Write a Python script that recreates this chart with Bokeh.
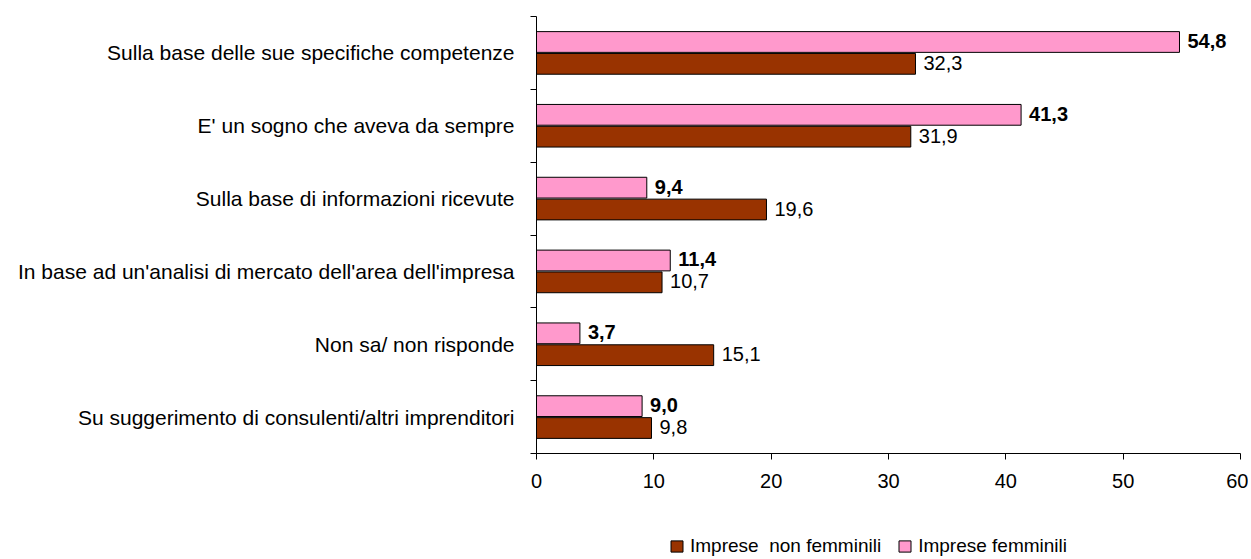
from bokeh.plotting import figure
from bokeh.layouts import column
from bokeh.models import Range1d, FixedTicker, Legend, LegendItem, ColumnDataSource
from bokeh.core.properties import value
from bokeh.embed import file_html
from bokeh.resources import INLINE

categories = [
    "Sulla base delle sue specifiche competenze",
    "E' un sogno che aveva da sempre",
    "Sulla base di informazioni ricevute",
    "In base ad un'analisi di mercato dell'area dell'impresa",
    "Non sa/ non risponde",
    "Su suggerimento di consulenti/altri imprenditori",
]
femminili = [54.8, 41.3, 9.4, 11.4, 3.7, 9.0]
non_femminili = [32.3, 31.9, 19.6, 10.7, 15.1, 9.8]
x_ticks = [0, 10, 20, 30, 40, 50, 60]
series_labels = ["Imprese  non femminili", "Imprese femminili"]

PINK = "#FF99CC"
BROWN = "#993300"
FONT = "Liberation Sans"

n = len(categories)
centers = [n - 0.5 - i for i in range(n)]
bh = 0.285
off = 0.15

def fmt(v):
    return f"{v:.1f}".replace(".", ",")

p = figure(width=1248, height=530, output_backend="svg", toolbar_location=None,
           x_range=Range1d(0, 60), y_range=Range1d(0, n),
           min_border_left=536, min_border_right=8, min_border_top=16, min_border_bottom=77)
p.outline_line_color = None
p.xgrid.visible = False
p.ygrid.visible = False

src_f = ColumnDataSource(dict(y=[c + off for c in centers], right=femminili,
                              lab=[fmt(v) for v in femminili]))
src_n = ColumnDataSource(dict(y=[c - off for c in centers], right=non_femminili,
                              lab=[fmt(v) for v in non_femminili]))

p.hbar(y="y", left=0, right="right", height=bh, source=src_f,
       fill_color=PINK, line_color="black", line_width=1)
p.hbar(y="y", left=0, right="right", height=bh, source=src_n,
       fill_color=BROWN, line_color="black", line_width=1)

p.text(x="right", y="y", text="lab", source=src_f, x_offset=8, y_offset=-1,
       text_font=value(FONT), text_font_size="20px", text_font_style="bold",
       text_baseline="middle", text_align="left", text_color="black")
p.text(x="right", y="y", text="lab", source=src_n, x_offset=8, y_offset=-1,
       text_font=value(FONT), text_font_size="20px",
       text_baseline="middle", text_align="left", text_color="black")

# x axis
p.xaxis.ticker = FixedTicker(ticks=x_ticks)
p.xaxis.major_tick_out = 6
p.xaxis.major_tick_in = 0
p.xaxis.minor_tick_line_color = None
p.xaxis.major_label_standoff = 14
p.xaxis.major_label_text_font = FONT
p.xaxis.major_label_text_font_size = "20px"
p.xaxis.major_label_text_color = "black"
p.xaxis.axis_line_color = "black"
p.xaxis.major_tick_line_color = "black"

# y axis: labels at centers, ticks at boundaries
p.yaxis.ticker = FixedTicker(ticks=centers, minor_ticks=list(range(0, n + 1)))
p.yaxis.major_label_overrides = {c: categories[i] for i, c in enumerate(centers)}
p.yaxis.major_tick_out = 0
p.yaxis.major_tick_in = 0
p.yaxis.minor_tick_out = 6
p.yaxis.minor_tick_in = 0
p.yaxis.minor_tick_line_color = "black"
p.yaxis.major_label_standoff = 16
p.yaxis.major_label_text_font = FONT
p.yaxis.major_label_text_font_size = "21px"
p.yaxis.major_label_text_color = "black"
p.yaxis.axis_line_color = "black"

# legend strip below the chart (legend swatches come from off-range proxy glyphs)
p2 = figure(width=1248, height=28, output_backend="svg", toolbar_location=None,
            x_range=Range1d(0, 1), y_range=Range1d(0, 1),
            x_axis_location=None, y_axis_location=None,
            min_border_left=0, min_border_right=0, min_border_top=0, min_border_bottom=0)
p2.outline_line_color = None
p2.xgrid.visible = False
p2.ygrid.visible = False
proxy = ColumnDataSource(dict(y=[-5.0], right=[1.0]))
l_n = p2.hbar(y="y", left=0, right="right", height=0.1, source=proxy,
              fill_color=BROWN, line_color="black", line_width=1)
l_f = p2.hbar(y="y", left=0, right="right", height=0.1, source=proxy,
              fill_color=PINK, line_color="black", line_width=1)

legend = Legend(items=[LegendItem(label=series_labels[0], renderers=[l_n]),
                       LegendItem(label=series_labels[1], renderers=[l_f])],
                orientation="horizontal", location=(133, 1),
                label_text_font=FONT, label_text_font_size="19px",
                label_text_color="black",
                label_height=14, glyph_width=15, glyph_height=14,
                label_standoff=6, spacing=16,
                padding=0, margin=0, border_line_color=None, background_fill_alpha=0)
p2.add_layout(legend, "center")

open("out.html", "w").write(file_html(column(p, p2, spacing=0), INLINE))
